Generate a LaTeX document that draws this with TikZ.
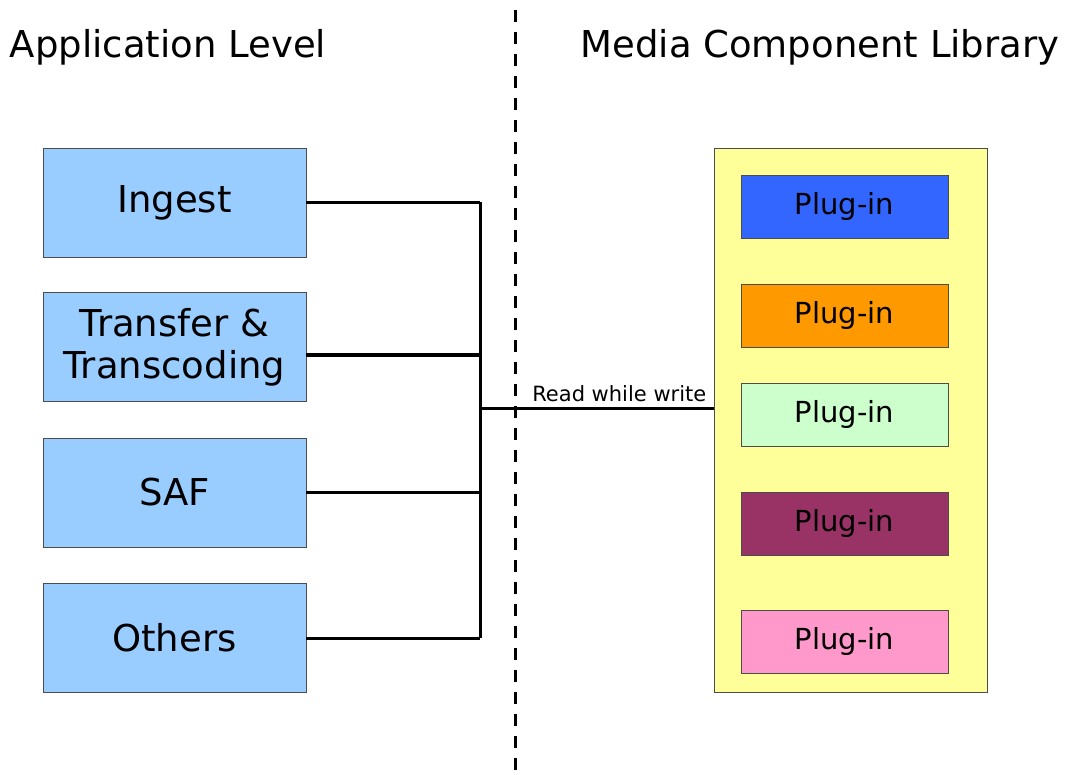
\documentclass[tikz,border=0pt]{standalone}
\usepackage{fontspec}
\setmainfont{DejaVu Sans}
\definecolor{appblue}{HTML}{99CCFF}
\definecolor{libyellow}{HTML}{FFFF99}
\definecolor{plugblue}{HTML}{3366FF}
\definecolor{plugorange}{HTML}{FF9900}
\definecolor{pluggreen}{HTML}{CCFFCC}
\definecolor{plugmaroon}{HTML}{993366}
\definecolor{plugpink}{HTML}{FF99CC}
\begin{document}
\begin{tikzpicture}[x=1pt,y=-1pt,
  title/.style={font=\fontsize{37}{44}\selectfont},
  appbox/.style={draw=black!70, fill=appblue, minimum width=263pt, minimum height=109pt,
    align=center, inner sep=0pt, font=\fontsize{37}{42}\selectfont},
  plugbox/.style={draw=black!70, minimum width=207pt, minimum height=63pt, inner sep=0pt,
    font=\fontsize{29}{34}\selectfont},
  wire/.style={line width=3pt}]

\useasboundingbox (0,0) rectangle (1073,775);
\fill[white] (0,0) rectangle (1073,775);

% separator
\draw[line width=3pt, dash pattern=on 12pt off 10pt] (515,10) -- (515,775);

% titles
\node[title] (applevel) at (168,47) {Application Level};
\node[title] (medialib) at (820,47) {Media Component Library};

% application level
\node[appbox] (ingest) at (174.5,202.5) {Ingest};
\node[appbox] (transfer) at (174.5,347) {Transfer \&\\Transcoding};
\node[appbox] (saf) at (174.5,492.5) {SAF};
\node[appbox] (others) at (174.5,638) {Others};

% media component library
\node[draw=black!70, fill=libyellow, minimum width=273pt, minimum height=544pt] (lib) at (850.5,420) {};
\foreach \y/\c/\n in {207/plugblue/plugA, 315.5/plugorange/plugB, 414.5/pluggreen/plugC,
    523.5/plugmaroon/plugD, 641.5/plugpink/plugE}
  \node[plugbox, fill=\c] (\n) at (844.5,\y) {Plug-in};

% connections
\coordinate (bus) at (480,408);
\draw[wire] (ingest.east) -- (ingest.east -| bus);
\draw[wire] ([yshift=-8pt]transfer.east) -- ([yshift=-8pt]transfer.east -| bus);
\draw[wire] (saf.east) -- (saf.east -| bus);
\draw[wire] (others.east) -- (others.east -| bus);
\draw[wire] (ingest.east -| bus) -- (others.east -| bus);
\draw[wire] (bus) -- (bus -| lib.west)
  node[pos=1, above left, inner xsep=6pt, inner ysep=5pt, font=\fontsize{21}{25}\selectfont] {Read while write};
\end{tikzpicture}
\end{document}
